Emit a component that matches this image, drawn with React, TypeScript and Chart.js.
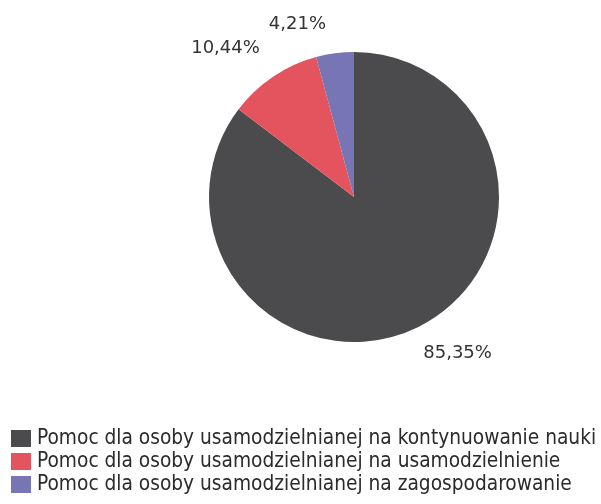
import React, { useEffect, useRef } from "react";
import { Chart, registerables } from "chart.js";

Chart.register(...registerables);

const categories = [
  "Pomoc dla osoby usamodzielnianej na kontynuowanie nauki",
  "Pomoc dla osoby usamodzielnianej na usamodzielnienie",
  "Pomoc dla osoby usamodzielnianej na zagospodarowanie",
];
const values = [85.35, 10.44, 4.21];
const valueLabels = ["85,35%", "10,44%", "4,21%"];
const colors = ["#4b4b4d", "#e4545f", "#7775b4"];

const sliceLabels = {
  id: "sliceLabels",
  afterDatasetsDraw(chart: any) {
    const ctx = chart.ctx;
    const meta = chart.getDatasetMeta(0);
    ctx.save();
    ctx.font = "18px 'DejaVu Sans'";
    ctx.fillStyle = "#333333";
    ctx.textBaseline = "middle";
    meta.data.forEach((arc: any, i: number) => {
      const mid = (arc.startAngle + arc.endAngle) / 2;
      const r = arc.outerRadius * 1.2;
      const dx = Math.cos(mid);
      const dy = Math.sin(mid);
      const x = arc.x + dx * r;
      const y = arc.y + dy * r;
      ctx.textAlign = dx < 0 ? "right" : "left";
      const xShift = dx > 0 ? -8 : dy < -0.9 ? -5 : 3;
      const yShift = dy < -0.9 ? 0 : dy < 0 ? -4 : 0;
      ctx.fillText(valueLabels[i], x + xShift, y + yShift);
    });
    ctx.restore();
  },
};

const customLegend = {
  id: "customLegend",
  afterDraw(chart: any) {
    const ctx = chart.ctx;
    const labels = chart.data.labels as string[];
    const bg = chart.data.datasets[0].backgroundColor as string[];
    ctx.save();
    ctx.font = "20.7px 'DejaVu Sans Condensed', 'DejaVu Sans'";
    ctx.textBaseline = "middle";
    ctx.textAlign = "left";
    const x0 = 11;
    const y0 = 439;
    const step = 23;
    labels.forEach((lab, i) => {
      const y = y0 + i * step;
      ctx.fillStyle = bg[i];
      ctx.fillRect(x0, y - 9, 20, 17);
      ctx.fillStyle = "#2b2b2b";
      ctx.fillText(lab, 37, y);
    });
    ctx.restore();
  },
};

export default function App() {
  const ref = useRef<HTMLCanvasElement>(null);
  useEffect(() => {
    if (!ref.current) return;
    const chart = new Chart(ref.current, {
      type: "pie",
      data: {
        labels: categories,
        datasets: [
          {
            data: values,
            backgroundColor: colors,
            borderWidth: 0,
          },
        ],
      },
      options: {
        responsive: false,
        animation: false,
        layout: { padding: { top: 52, bottom: 162, left: 209, right: 102 } },
        plugins: {
          legend: { display: false },
          tooltip: { enabled: false },
        },
      },
      plugins: [sliceLabels, customLegend],
    });
    return () => chart.destroy();
  }, []);
  return (
    <div style={{ position: "fixed", left: 0, top: 0, width: 601, height: 504, background: "#fff" }}>
      <canvas ref={ref} width={601} height={504} />
    </div>
  );
}
